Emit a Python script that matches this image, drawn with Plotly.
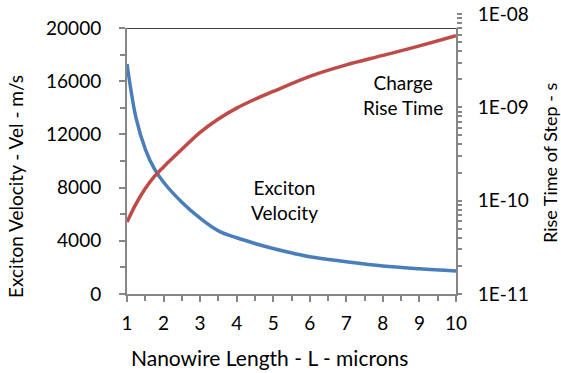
import plotly.graph_objects as go

# Data
length_um = [1, 1.25, 1.5, 1.75, 2, 2.5, 3, 3.5, 4, 4.5, 5, 6, 7, 8, 9, 10]
exciton_velocity = [17300, 13200, 10900, 9400, 8400, 6900, 5700, 4750, 4230, 3800,
                    3420, 2800, 2430, 2110, 1900, 1730]
rise_time = [5.9e-11, 9.3e-11, 1.35e-10, 1.82e-10, 2.3e-10, 3.55e-10, 5.4e-10, 7.5e-10,
             9.8e-10, 1.22e-9, 1.48e-9, 2.15e-9, 2.85e-9, 3.6e-9, 4.55e-9, 5.85e-9]

x_ticks = list(range(1, 11))
y_ticks = [0, 4000, 8000, 12000, 16000, 20000]
decades = [1e-11, 1e-10, 1e-9, 1e-8]
decade_labels = ["1E-11", "1E-10", "1E-09", "1E-08"]

# log tick positions (majors labelled, minors blank)
y2_vals, y2_text = [], []
for d, lab in zip(decades, decade_labels):
    y2_vals.append(d)
    y2_text.append(lab)
    if d < 1e-8:
        for k in range(2, 10):
            y2_vals.append(k * d)
            y2_text.append("")

BLUE = "#4a7ebb"
RED = "#be4b48"
AX = "#868686"
FONT = "Lato"

# pixel geometry helpers
L, R, T, B = 127, 456, 14, 294
W, H = R - L, B - T


def px(xp):
    return (xp - L) / W


def py(yp):
    return (B - yp) / H


fig = go.Figure()
fig.add_trace(go.Scatter(x=length_um, y=exciton_velocity, mode="lines",
                         line=dict(color=BLUE, width=3.5, shape="spline"),
                         xaxis="x", yaxis="y", showlegend=False))
fig.add_trace(go.Scatter(x=length_um, y=rise_time, mode="lines",
                         line=dict(color=RED, width=3.5, shape="spline"),
                         xaxis="x", yaxis="y2", showlegend=False))


def ann(text, xp, yp, size, angle=0):
    return dict(text=text, xref="paper", yref="paper", x=px(xp), y=py(yp),
                xanchor="center", yanchor="middle", showarrow=False,
                textangle=angle, align="center", font=dict(size=size))


fig.update_layout(
    width=561, height=373,
    margin=dict(l=L, r=561 - R, t=T, b=373 - B, pad=0, autoexpand=False),
    paper_bgcolor="white", plot_bgcolor="rgba(0,0,0,0)",
    font=dict(family=FONT, size=19, color="black"),
    xaxis=dict(range=[1, 10], tickvals=x_ticks, showgrid=False, zeroline=False,
               showline=True, linecolor=AX, linewidth=2, automargin=False,
               ticks="outside", ticklen=6, tickwidth=2, tickcolor=AX,
               minor=dict(dtick=0.5, ticks="outside", ticklen=5, tickwidth=2,
                          tickcolor=AX, showgrid=False),
               ticklabelstandoff=5, anchor="y", domain=[0, 1]),
    yaxis=dict(range=[0, 20000], tickvals=y_ticks,
               ticktext=[str(v) for v in y_ticks], showgrid=False, zeroline=False,
               showline=True, linecolor=AX, linewidth=2, mirror=True,
               automargin=False,
               ticks="outside", ticklen=6, tickwidth=2, tickcolor=AX,
               minor=dict(dtick=2000, ticks="outside", ticklen=5, tickwidth=2,
                          tickcolor=AX, showgrid=False),
               ticklabelstandoff=14, domain=[0, 266 / 280], anchor="x"),
    yaxis2=dict(type="log", range=[-11, -8], tickvals=y2_vals, ticktext=y2_text,
                side="right", anchor="x", domain=[0, 1], showgrid=False,
                zeroline=False, showline=False, automargin=False,
                ticks="outside", ticklen=5, tickwidth=2, tickcolor=AX,
                ticklabelstandoff=12),
    shapes=[dict(type="line", xref="x", yref="y", x0=1, x1=10, y0=20000, y1=20000,
                 line=dict(color="black", width=1.5))],
    annotations=[
        ann("Nanowire Length - L - microns", 269, 357, 21),
        ann("Exciton Velocity - Vel - m/s", 15, 187, 19, -90),
        ann("Rise Time of Step - s", 550, 163, 18, -90),
        ann("Charge<br>Rise Time", 403, 95, 19),
        ann("Exciton<br>Velocity", 284, 200, 19),
    ],
)

fig.write_html("out.html")
